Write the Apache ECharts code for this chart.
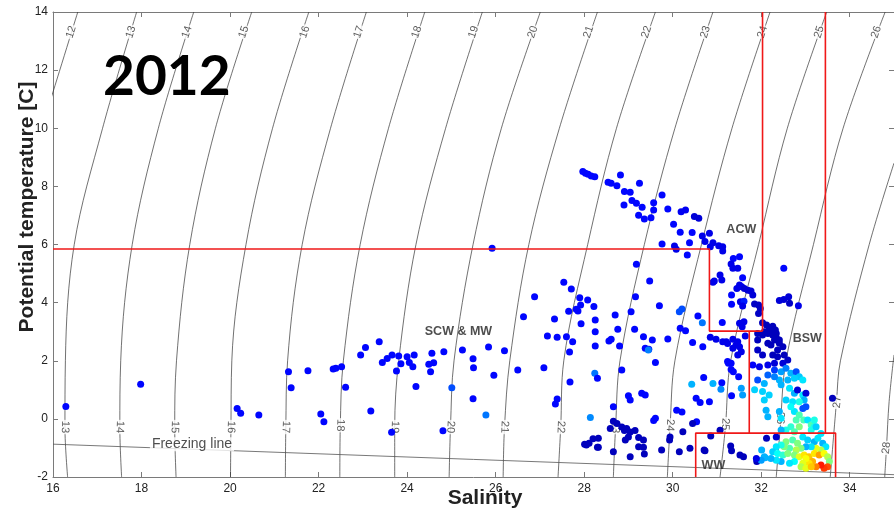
<!DOCTYPE html>
<html><head><meta charset="utf-8">
<script src="https://cdn.jsdelivr.net/npm/echarts@6/dist/echarts.min.js"></script>
<style>html,body{margin:0;padding:0;background:#fff}#c{width:894px;height:513px}</style>
</head><body><div id="c"></div>
<script>
// ---- axes ----
const xTicks = [16,18,20,22,24,26,28,30,32,34];
const yTicks = [-2,0,2,4,6,8,10,12,14];

// ---- isopycnals (sigma-t), salinity read at these temperatures ----
const isoT = [14, 10, 6, 2, -0.3, -2];
const isoLevels = [13,14,15,16,17,18,19,20,21,22,23,24,25,26];
const isoS = [
  [17.89,17.12,16.48,16.28,16.27,16.33],
  [19.18,18.38,17.79,17.53,17.51,17.55],
  [20.49,19.67,19.09,18.79,18.75,18.78],
  [21.78,20.96,20.36,20.04,20.02,20.01],
  [23.08,22.27,21.63,21.30,21.26,21.25],
  [24.40,23.58,22.94,22.56,22.49,22.48],
  [25.70,24.87,24.20,23.81,23.72,23.72],
  [27.01,26.13,25.49,25.06,24.98,24.95],
  [28.30,27.44,26.75,26.32,26.20,26.17],
  [29.61,28.73,28.08,27.54,27.47,27.41],
  [30.91,30.05,29.36,28.81,28.71,28.66],
  [32.20,31.34,30.65,30.05,29.94,29.88],
  [33.48,32.59,31.94,31.31,31.19,31.07],
  [34.80,33.85,33.18,32.56,32.43,32.34]
];
const iso12 = [[16.56,14],[15.95,11.0]];
const iso27 = [[35.0,8.8],[34.44,6],[33.79,2],[33.70,0.58],[33.56,-2]];
const iso28 = [[35.0,2.2],[34.89,0.6],[34.83,-1.0],[34.79,-2]];

// contour labels
const topLabelLevels = [12,13,14,15,16,17,18,19,20,21,22,23,24,25,26];
const topLabelS = [16.41,17.76,19.03,20.31,21.69,22.91,24.22,25.50,26.84,28.10,29.41,30.74,32.03,33.31,34.60];
const topLabelT = 13.31;
const botLabelLevels = [13,14,15,16,17,18,19,20,21,22,23,24,25,26,27,28];
const botLabelS = [16.27,17.51,18.75,20.02,21.26,22.49,23.72,24.98,26.20,27.47,28.71,29.94,31.19,32.43,33.72,34.83];
const botLabelT = [-0.28,-0.28,-0.28,-0.28,-0.28,-0.22,-0.28,-0.28,-0.28,-0.28,-0.28,-0.22,-0.18,0.03,0.58,-1.0];

// freezing line
const freezing = [[16,-0.87],[35,-1.92]];

// water-mass boxes (red)
const boxSCW = [[16,5.845],[30.83,5.845],[30.83,3.02],[32.03,3.02]];
const boxACW = [[32.03,14],[32.03,3.02]];
const boxBSWl = [[31.73,3.02],[31.73,-0.49]];
const boxBSWr = [[33.45,14],[33.45,-0.49]];
const boxWW = [[30.52,-2],[30.52,-0.49],[33.68,-0.49],[33.68,-2]];

// region labels
const regionNames = ['ACW','BSW','SCW & MW','WW'];
const regionS = [31.55,33.04,25.16,30.92];
const regionT = [6.53,2.78,3.02,-1.62];

// ---- observations [salinity, temperature, colour value] ----
const ptsSCW = [
 [16.29,0.43,.13],[17.98,1.19,.13],[20.16,0.36,.13],[20.24,0.19,.13],[20.65,0.13,.13],[21.32,1.62,.13],[21.38,1.07,.13],
 [21.76,1.66,.13],[22.33,1.72,.13],[22.39,1.74,.13],[22.52,1.79,.13],[22.61,1.09,.13],[22.05,0.17,.13],[22.12,-0.10,.13],
 [22.95,2.20,.13],[23.06,2.46,.13],[23.37,2.65,.13],[23.44,1.94,.13],[23.55,2.08,.13],[23.66,2.20,.13],[23.76,1.65,.13],
 [23.81,2.16,.13],[23.86,1.90,.13],[24.00,2.14,.13],[24.05,1.94,.13],[24.13,1.79,.13],[24.16,2.20,.13],[24.20,1.11,.13],
 [23.18,0.27,.13],[23.65,-0.46,.13],[24.49,1.88,.13],[24.53,1.62,.13],[24.56,2.26,.13],[24.60,1.93,.13],[24.83,2.31,.13],
 [24.81,-0.41,.13],[25.01,1.07,.2],[25.25,2.37,.13],[25.49,2.07,.13],[25.50,1.76,.13],[25.49,0.69,.13],[25.78,0.13,.24],
 [25.84,2.47,.13],[25.96,1.50,.13],[26.20,2.34,.13],[26.50,1.68,.13],[27.09,1.76,.13],[27.17,2.85,.13],[27.39,2.81,.13],
 [27.60,2.83,.13],[27.74,2.65,.13],[27.67,2.30,.13],[27.68,1.27,.13],[27.39,0.68,.13],[27.35,0.51,.13],[28.14,0.05,.26],
 [28.25,2.51,.13],[28.25,3.0,.13],[28.24,1.57,.24],[28.30,1.40,.13],[25.92,5.87,.13]
];
const ptsACW = [
 [27.97,8.51,.13],[28.03,8.45,.13],[28.09,8.42,.13],[28.16,8.36,.13],[28.24,8.33,.13],
 [28.82,8.39,.13],[28.54,8.14,.13],[28.61,8.11,.13],[28.74,8.02,.13],[29.25,8.11,.13],[28.91,7.82,.13],[29.04,7.80,.13],
 [29.08,7.51,.13],[29.18,7.42,.13],[28.90,7.36,.13],[29.31,7.28,.13],[29.57,7.44,.13],[29.57,7.19,.13],[29.23,7.01,.13],
 [29.36,6.88,.13],[29.51,6.92,.13],[29.76,7.70,.13],[29.89,7.22,.13],[30.19,7.13,.11],[30.29,7.19,.11],[30.49,6.96,.08],
 [30.59,6.90,.08],[30.02,6.70,.13],[30.17,6.42,.13],[30.44,6.41,.13],[30.67,6.29,.1],[30.73,6.10,.1],[30.83,6.39,.1],
 [30.38,6.06,.13],[29.76,6.02,.13],[30.04,5.95,.1],[30.08,5.84,.1],[30.85,5.92,.1],[30.91,6.06,.1],[31.04,5.96,.1],
 [31.13,5.92,.1],[31.13,5.78,.1],[30.33,5.64,.13],[31.37,5.52,.13],[31.51,5.58,.13],[31.32,5.33,.1],[31.36,5.18,.1],
 [31.47,5.18,.1],[32.51,5.18,.13],[29.18,5.32,.13],[29.48,4.74,.13],[31.07,4.95,.1],[31.11,4.78,.1],[30.91,4.70,.1],
 [30.94,4.74,.1],[31.58,4.86,.13],[31.51,4.61,.1],[31.56,4.55,.1],[31.62,4.49,.08],[31.70,4.43,.08],[31.77,4.40,.08],
 [31.81,4.26,.08],[31.45,4.49,.1],[31.33,4.26,.13],[31.33,3.94,.13],[31.53,4.03,.1],[31.61,4.05,.15],[31.58,3.88,.1],
 [31.85,3.95,.06],[31.94,3.92,.06],[31.98,3.80,.06],[31.94,3.63,.06],[32.41,4.07,.08],[32.51,4.11,.08],[32.62,4.20,.08],
 [32.64,3.98,.06],[32.84,3.89,.1],[31.12,3.32,.13],[31.51,3.29,.1],[31.61,3.34,.1],[31.57,3.17,.1]
];
const ptsMid = [
 [27.54,4.70,.13],[27.71,4.47,.13],[26.88,4.20,.13],[27.90,4.17,.13],[28.08,4.09,.13],[27.92,3.92,.13],[28.22,3.87,.13],
 [27.82,3.77,.13],[27.86,3.71,.13],[27.65,3.70,.13],[26.63,3.51,.13],[27.33,3.44,.13],[27.93,3.27,.13],[28.25,3.40,.13],
 [28.70,3.57,.13],[28.76,3.08,.13],[29.06,3.69,.13],[29.16,4.20,.13],[29.14,3.08,.13],[29.70,3.89,.13],[30.15,3.69,.2],
 [30.21,3.78,.2],[30.57,3.54,.13],[30.67,3.31,.24],[30.17,3.12,.13],[30.29,3.03,.13],[29.34,2.83,.13],[29.54,2.71,.13],
 [28.80,2.51,.13],[28.56,2.68,.13],[28.61,2.74,.13],[29.89,2.75,.13],[30.45,2.63,.13],[30.68,2.48,.13],[30.85,2.81,.1],
 [30.98,2.74,.1],[31.13,2.65,.1],[31.21,2.65,.1],[31.36,2.74,.1],[31.47,2.65,.1],[31.64,2.85,.1],[29.46,2.40,.13],
 [29.38,2.43,.13],[29.61,1.94,.13],[29.45,2.37,.25],[28.85,1.68,.13],[29.00,0.80,.13],[29.04,0.65,.13],[29.30,0.88,.13],
 [29.38,0.82,.13],[28.66,0.42,.13],[29.61,0.02,.13],[29.57,-0.06,.13],[30.09,0.30,.13],[30.21,0.24,.13],[30.54,-0.10,.13],
 [30.53,0.71,.13],[30.62,0.56,.13],[30.43,1.19,.3],[30.70,1.42,.13],[30.91,1.22,.3],[31.11,1.24,.13],[31.09,1.02,.26],
 [30.83,0.59,.13],[31.33,0.80,.13],[31.26,1.91,.13],[31.32,1.70,.13],[31.37,1.62,.13],[31.49,1.45,.13],
 [31.24,2.59,.1],[31.43,2.54,.1],[31.51,2.48,.1],[31.36,2.43,.1],[31.55,2.31,.1],[31.47,2.20,.1],[31.24,1.97,.13],
 [31.32,1.91,.13],[31.55,1.05,.28],[31.58,0.82,.28]
];
const ptsCold = [
 [28.01,-0.87,.05],[28.11,-0.84,.05],[28.20,-0.68,.05],[28.30,-0.98,.05],[28.05,-0.90,.05],[28.32,-0.67,.05],
 [28.59,-0.33,.05],[28.66,-0.08,.05],[28.74,-0.16,.05],[28.85,-0.28,.05],[28.91,-0.40,.05],[28.96,-0.33,.05],
 [29.04,-0.45,.05],[29.15,-0.40,.05],[29.00,-0.62,.05],[28.93,-0.73,.05],[29.23,-0.64,.05],[29.34,-0.73,.05],
 [29.23,-0.96,.05],[29.04,-1.30,.05],[28.66,-1.13,.05],[28.32,-0.98,.05],[29.34,-0.98,.05],[29.36,-1.21,.05],
 [29.75,-1.07,.05],[29.94,-0.62,.05],[29.93,-0.73,.05],[30.15,-1.13,.05],[30.23,-0.44,.05],[30.39,-1.01,.05],
 [30.45,-0.16,.05],[30.86,-0.59,.05],[30.71,-1.07,.05],[30.73,-1.10,.05],[31.31,-0.93,.05],[31.33,-1.10,.05],
 [31.52,-1.24,.05],[31.60,-1.30,.05],[31.07,-0.39,.05],[31.90,-1.47,.05],[32.12,-0.67,.05],[32.34,-0.62,.07],
 [32.01,-1.07,.3],[32.09,-1.34,.3],[33.61,0.71,.05]
];
const ptsBSW = [
 [31.92,2.94,.05],[31.92,2.71,.05],[32.03,2.89,.05],[32.15,2.96,.05],[32.26,3.0,.05],[32.34,2.94,.05],[32.15,2.60,.05],
 [32.22,2.54,.05],[32.30,2.71,.05],[32.41,2.60,.05],[32.49,2.48,.05],[32.37,2.37,.05],[31.92,2.37,.06],[32.03,2.20,.06],
 [32.26,2.20,.05],[32.37,2.14,.05],[32.52,2.20,.05],[32.60,2.03,.06],[32.49,1.91,.08],[32.30,1.91,.08],[32.15,1.85,.1],
 [31.96,1.79,.1],[31.81,1.85,.12],
 [32.03,3.31,.05],[32.12,3.23,.05],[32.18,3.14,.05],[32.26,3.19,.05],[32.32,3.06,.05],[32.07,3.0,.05],[32.15,2.94,.05],
 [32.26,2.89,.05],[32.34,2.79,.05],[32.41,2.71,.05],
 [32.30,1.68,.18],[32.45,1.62,.28],[32.56,1.74,.25],[32.67,1.57,.3],[32.79,1.62,.2],[32.86,1.45,.32],[32.94,1.34,.35],
 [32.75,1.40,.33],[32.60,1.34,.3],[32.41,1.34,.3],[32.30,1.45,.25],[32.15,1.51,.22],[32.07,1.22,.3],[31.92,1.34,.2],
 [31.85,1.0,.33],[32.03,0.94,.33],[32.18,0.82,.33],[32.45,1.17,.3],[32.64,1.05,.35],[32.75,0.88,.3],[32.82,0.99,.08],
 [32.94,0.82,.35],[33.01,0.88,.08],[32.97,0.65,.3],[32.86,0.59,.4],[32.71,0.59,.35],[32.56,0.65,.33],[32.07,0.65,.33],
 [32.11,0.30,.3],[32.15,0.07,.3],[32.41,0.25,.3],[32.45,0.02,.35],[32.75,0.25,.35],[32.86,0.13,.45],[32.94,0.36,.2],
 [33.01,0.42,.2],[32.96,-0.04,.45],[33.05,-0.04,.35],[33.13,-0.21,.45],[33.13,-0.38,.4],[33.20,-0.27,.4],[33.35,-0.50,.35],
 [32.67,0.42,.38],[32.79,-0.04,.45],[32.86,-0.27,.5],[32.67,-0.27,.42],[32.75,-0.44,.45],[32.56,-0.38,.4],[32.45,-0.38,.3],
 [33.20,-0.04,.4],[33.24,-0.27,.33]
];
const ptsWW = [
 [32.56,-0.79,.5],[32.71,-0.73,.45],[32.82,-0.84,.5],[32.94,-0.62,.35],[33.05,-0.73,.33],[33.20,-0.79,.3],[33.28,-0.67,.35],
 [33.39,-0.84,.3],[33.46,-0.96,.35],[33.35,-1.07,.55],[33.24,-1.01,.6],[33.13,-0.96,.35],[33.01,-0.96,.3],[32.90,-1.01,.5],
 [32.79,-1.07,.55],[32.64,-1.01,.45],[32.52,-0.96,.5],[32.45,-0.90,.4],[32.34,-0.96,.35],[32.26,-1.13,.33],[32.37,-1.19,.38],
 [32.49,-1.24,.42],[32.60,-1.19,.5],[32.75,-1.24,.5],[32.86,-1.30,.6],[32.97,-1.24,.65],[33.08,-1.30,.68],[33.20,-1.19,.65],
 [33.31,-1.24,.72],[33.42,-1.19,.62],[33.50,-1.30,.55],[33.54,-1.47,.5],[33.50,-1.65,.8],[33.42,-1.70,.82],[33.35,-1.59,.85],
 [33.24,-1.65,.75],[33.16,-1.47,.7],[33.08,-1.53,.65],[33.01,-1.36,.62],[32.94,-1.53,.6],[32.90,-1.65,.55],[33.01,-1.70,.6],
 [33.13,-1.65,.68],[32.75,-1.47,.38],[32.64,-1.53,.35],[32.45,-1.47,.3],[32.34,-1.42,.35],[32.22,-1.36,.3],[32.07,-1.30,.3],
 [32.00,-1.42,.28],[31.89,-1.36,.1]
];

// ---- build chart ----
const chart = echarts.init(document.getElementById('c'), null, {renderer:'canvas'});
const inkAxis = '#7a7a7a';
const series = [];
isoLevels.forEach((lv, i) => {
  series.push({type:'line', name:'iso'+lv, data:isoS[i].map((s,j)=>[s, isoT[j]]), smooth:0.35,
    symbol:'none', silent:true, z:1, lineStyle:{color:'#333', width:0.7}});
});
[iso12, iso27, iso28].forEach((d,k)=>{
  series.push({type:'line', name:'isoX'+k, data:d, smooth:0.35, symbol:'none', silent:true, z:1,
    lineStyle:{color:'#333', width:0.7}});
});
series.push({type:'line', name:'freezing', data:freezing, symbol:'none', silent:true, z:1,
  lineStyle:{color:'#555', width:0.8}});

const labelData = [];
topLabelLevels.forEach((lv,i)=>labelData.push({value:[topLabelS[i], topLabelT], name:String(lv), label:{rotate:72}}));
botLabelLevels.forEach((lv,i)=>labelData.push({value:[botLabelS[i], botLabelT[i]], name:String(lv), label:{rotate: lv>=27 ? 84 : -92}}));
series.push({type:'scatter', name:'isoLabels', data:labelData, symbolSize:1, silent:true, z:2,
  itemStyle:{color:'rgba(0,0,0,0)'},
  label:{show:true, position:'inside', formatter:p=>p.name, fontSize:11, color:'#333',
    fontFamily:'Liberation Sans', backgroundColor:'#fff', padding:[0,1]}});
series.push({type:'scatter', name:'freezeLabel', data:[{value:[19.14,-0.87], name:'Freezing line'}], symbolSize:1, silent:true, z:2,
  itemStyle:{color:'rgba(0,0,0,0)'},
  label:{show:true, position:'inside', formatter:p=>p.name, fontSize:14, color:'#222',
    fontFamily:'Liberation Sans', backgroundColor:'#fff', padding:[0,2]}});

const allPts = [].concat(ptsSCW, ptsACW, ptsMid, ptsCold, ptsBSW, ptsWW);
series.push({type:'scatter', name:'obs', data:allPts, symbolSize:7, z:3, itemStyle:{opacity:1}});

[boxSCW, boxACW, boxBSWl, boxBSWr, boxWW].forEach((d,k)=>{
  series.push({type:'line', name:'box'+k, data:d, symbol:'none', silent:true, z:4,
    lineStyle:{color:'#f01818', width:1.6}});
});
series.push({type:'scatter', name:'regions',
  data:regionNames.map((n,i)=>({value:[regionS[i], regionT[i]], name:n})),
  symbolSize:1, silent:true, z:5, itemStyle:{color:'rgba(0,0,0,0)'},
  label:{show:true, position:'inside', formatter:p=>p.name, fontSize:12.5, fontWeight:'bold', color:'#222',
    fontFamily:'Liberation Sans'}});

const axisCommon = {
  axisLine:{show:true, onZero:false, lineStyle:{color:inkAxis, width:1}},
  axisTick:{show:true, inside:true, length:5, lineStyle:{color:inkAxis}},
  splitLine:{show:false}
};
chart.setOption({
  animation:false,
  backgroundColor:'#fff',
  grid:{left:53, right:0, top:12, bottom:36, containLabel:false},
  xAxis:[
    Object.assign({type:'value', min:16, max:35, interval:2, position:'bottom',
      axisLabel:{show:true, fontSize:12, color:'#222', fontFamily:'Liberation Sans', margin:6, showMaxLabel:false,
        formatter:v=>xTicks.includes(v)?String(v):''}}, axisCommon),
    Object.assign({type:'value', min:16, max:35, interval:2, position:'top', axisLabel:{show:false}}, axisCommon)
  ],
  yAxis:[
    Object.assign({type:'value', min:-2, max:14, interval:2, position:'left',
      axisLabel:{show:true, fontSize:12, color:'#222', fontFamily:'Liberation Sans', margin:5,
        formatter:v=>yTicks.includes(v)?String(v):''}}, axisCommon),
    Object.assign({type:'value', min:-2, max:14, interval:2, position:'right', axisLabel:{show:false}}, axisCommon)
  ],
  visualMap:{type:'continuous', show:false, seriesIndex:series.findIndex(s=>s.name==='obs'), dimension:2, min:0, max:1,
    inRange:{color:['#00008f','#0000ff','#0080ff','#00ffff','#80ff80','#ffff00','#ff8000','#ff0000','#800000']}},
  graphic:[
    {type:'text', left:103, top:50, z:10, style:{text:'2012', font:'bold 55px Lato', fill:'#000'}},
    {type:'text', x:27, y:207, rotation:Math.PI/2, z:10,
      style:{text:'Potential temperature [C]', font:'bold 21px "Liberation Sans"', fill:'#222',
        align:'center', verticalAlign:'middle', textAlign:'center', textVerticalAlign:'middle'}},
    {type:'text', x:485, y:498, z:10,
      style:{text:'Salinity', font:'bold 21px "Liberation Sans"', fill:'#222',
        align:'center', verticalAlign:'middle', textAlign:'center', textVerticalAlign:'middle'}}
  ],
  series:series
});
</script></body></html>
